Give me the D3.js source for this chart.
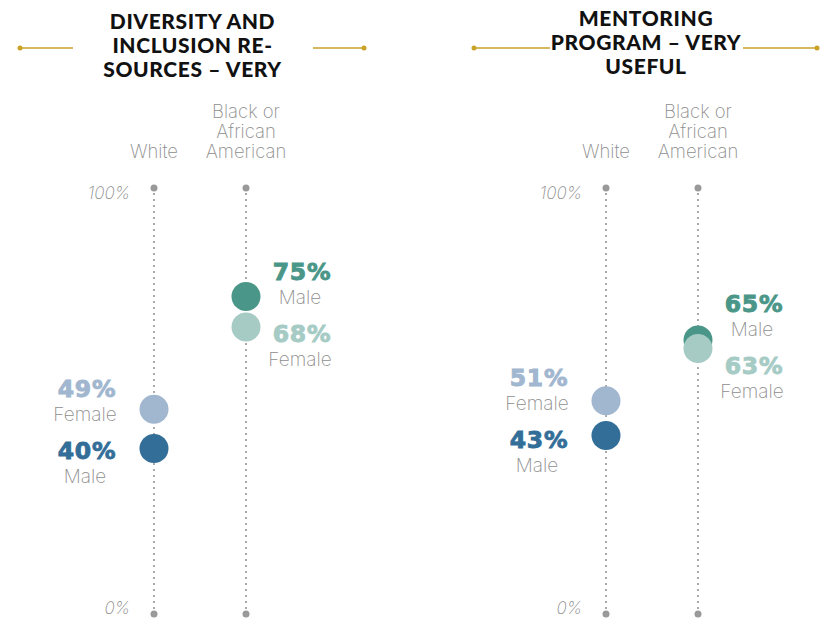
<!DOCTYPE html>
<html>
<head>
<meta charset="utf-8">
<script src="https://cdn.jsdelivr.net/npm/d3@7"></script>
<style>
  body { margin: 0; background: #fff; }
  svg { display: block; }
</style>
</head>
<body>
<svg id="chart" width="823" height="618"></svg>
<script>
// data
const titles = [
    ['DIVERSITY AND', 'INCLUSION RE-', 'SOURCES – VERY'],
    ['MENTORING', 'PROGRAM – VERY', 'USEFUL']
]
const races = ['White', 'Black or African American']
const raceLines = [['White'], ['Black or', 'African', 'American']]
const maleVals = [[40, 75], [43, 65]]
const femaleVals = [[49, 68], [51, 63]]
const axisTicks = ['100%', '0%']

const colors = {
    White: { Male: '#336e99', Female: '#a1b6cf' },
    'Black or African American': { Male: '#4a9688', Female: '#a6cbc5' }
}

const lightFont = 'Inter'
const grey = '#8e8e8e'

const svg = d3.select('#chart')
const panelX = [0, 452]
// gold rules either side of the title
const ruleSegs = [[[20, 73], [313, 364]], [[474, 550], [743, 817]]]
const titleY = [29, 26]

const y = d3.scaleLinear().domain([0, 100]).range([622, 188])
const axisBottom = 614

titles.forEach((tl, p) => {
    const g = svg.append('g').attr('transform', `translate(${panelX[p]},0)`)
    const x = d3.scalePoint().domain(races).range([154, 246])

    // title
    const cx = p == 0 ? 192.5 : 194
    g.append('text')
        .attr('text-anchor', 'middle')
        .attr('font-family', 'Lato')
        .attr('font-weight', 900)
        .attr('font-size', 21)
        .attr('letter-spacing', 0.6)
        .attr('fill', '#111')
        .selectAll('tspan')
        .data(tl)
        .join('tspan')
        .attr('x', cx)
        .attr('y', (d, i) => titleY[p] + i * 24)
        .text(d => d)

    ruleSegs[p].forEach(seg => {
        const gx = panelX[p]
        g.append('line')
            .attr('x1', seg[0] - gx).attr('x2', seg[1] - gx)
            .attr('y1', 48).attr('y2', 48)
            .attr('stroke', '#c9a227').attr('stroke-width', 1.5)
    })
    g.append('circle').attr('cx', ruleSegs[p][0][0] - panelX[p]).attr('cy', 48).attr('r', 2.5).attr('fill', '#c9a227')
    g.append('circle').attr('cx', ruleSegs[p][1][1] - panelX[p]).attr('cy', 48).attr('r', 2.5).attr('fill', '#c9a227')

    // axis tick labels
    g.append('text')
        .attr('x', 130).attr('y', y(100) + 11)
        .attr('text-anchor', 'end')
        .attr('font-family', lightFont).attr('font-weight', 200).attr('font-style', 'italic')
        .attr('font-size', 17).attr('fill', grey)
        .text(axisTicks[0])
    g.append('text')
        .attr('x', 130).attr('y', axisBottom)
        .attr('text-anchor', 'end')
        .attr('font-family', lightFont).attr('font-weight', 200).attr('font-style', 'italic')
        .attr('font-size', 17).attr('fill', grey)
        .text(axisTicks[1])

    races.forEach((race, r) => {
        const rx = x(race)

        // header
        const lines = raceLines[r]
        g.append('text')
            .attr('text-anchor', 'middle')
            .attr('font-family', lightFont).attr('font-weight', 200)
            .attr('font-size', 18.5).attr('fill', grey)
            .selectAll('tspan')
            .data(lines)
            .join('tspan')
            .attr('x', rx)
            .attr('y', (d, i) => 158 - (lines.length - 1 - i) * 20)
            .text(d => d)

        // dotted stem
        g.append('line')
            .attr('x1', rx).attr('x2', rx)
            .attr('y1', y(100)).attr('y2', axisBottom)
            .attr('stroke', '#999').attr('stroke-width', 2.2)
            .attr('stroke-linecap', 'round')
            .attr('stroke-dasharray', '0,6')
        g.append('circle').attr('cx', rx).attr('cy', y(100)).attr('r', 3.5).attr('fill', '#999')
        g.append('circle').attr('cx', rx).attr('cy', axisBottom).attr('r', 3.5).attr('fill', '#999')

        const pts = [
            { gender: 'Male', v: maleVals[p][r] },
            { gender: 'Female', v: femaleVals[p][r] }
        ]

        g.selectAll(null)
            .data(pts)
            .join('circle')
            .attr('cx', rx)
            .attr('cy', d => y(d.v))
            .attr('r', 14.5)
            .attr('fill', d => colors[race][d.gender])

        // labels: stacked around the midpoint of the two dots
        const mid = (y(pts[0].v) + y(pts[1].v)) / 2
        const sorted = pts.slice().sort((a, b) => b.v - a.v)
        const lx = r == 0 ? rx - 67 : rx + 56
        sorted.forEach((d, i) => {
            const base = i == 0 ? mid - 32 : mid + 30
            const c = colors[race][d.gender]
            g.append('text')
                .attr('x', lx).attr('y', base)
                .attr('text-anchor', 'middle')
                .attr('font-family', 'DejaVu Sans').attr('font-weight', 'bold')
                .attr('font-size', 23.5).attr('letter-spacing', 0.8)
                .attr('fill', c)
                .attr('stroke', c).attr('stroke-width', 0.9)
                .text(d.v + '%')
            g.append('text')
                .attr('x', lx - 2).attr('y', base + 24)
                .attr('text-anchor', 'middle')
                .attr('font-family', lightFont).attr('font-weight', 200)
                .attr('font-size', 19).attr('fill', grey)
                .text(d.gender)
        })
    })
})
</script>
</body>
</html>
